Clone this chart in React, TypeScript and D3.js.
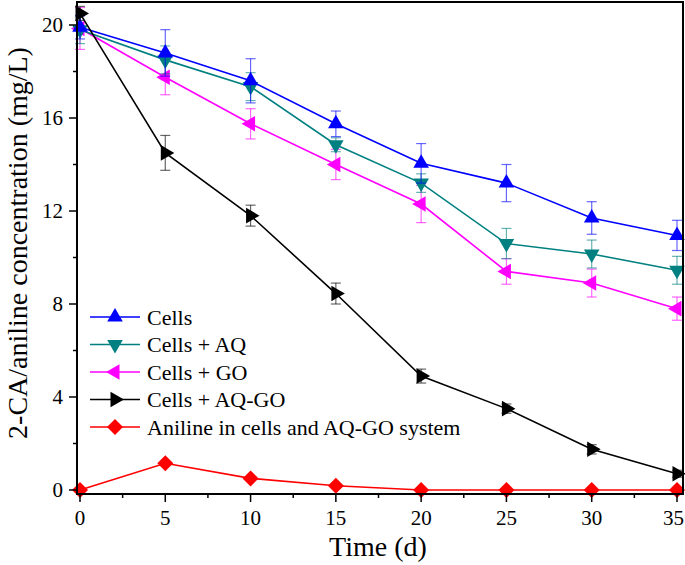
import React from "react";
import * as d3 from "d3";

const days = [0, 5, 10, 15, 20, 25, 30, 35];
const cells = [19.9, 18.8, 17.6, 15.75, 14.05, 13.2, 11.7, 10.95];
const cellsErr = [0.5, 1.0, 0.95, 0.55, 0.85, 0.8, 0.7, 0.65];
const cellsAQ = [19.8, 18.5, 17.35, 14.85, 13.2, 10.6, 10.15, 9.45];
const cellsAQErr = [0.6, 0.6, 0.6, 0.3, 0.4, 0.65, 0.6, 0.6];
const cellsGO = [19.85, 17.75, 15.75, 14.0, 12.3, 9.4, 8.9, 7.8];
const cellsGOErr = [0.9, 0.75, 0.65, 0.65, 0.8, 0.55, 0.6, 0.5];
const cellsAQGO = [20.5, 14.5, 11.8, 8.45, 4.9, 3.5, 1.75, 0.7];
const cellsAQGOErr = [0.3, 0.75, 0.45, 0.45, 0.3, 0.2, 0.2, 0.15];
const aniline = [0, 1.15, 0.5, 0.18, 0, 0, 0, 0];

const seriesNames = [
  "Cells",
  "Cells + AQ",
  "Cells + GO",
  "Cells + AQ-GO",
  "Aniline in cells and AQ-GO system",
];
const xTicks = [0, 5, 10, 15, 20, 25, 30, 35];
const yTicks = [0, 4, 8, 12, 16, 20];

type Shape = "up" | "down" | "left" | "right" | "diamond";

function markerPath(shape: Shape, cx: number, cy: number): string {
  const r = 9;
  const tri = (angles: number[]) =>
    angles
      .map((a, i) => {
        const rad = (a * Math.PI) / 180;
        return `${i === 0 ? "M" : "L"}${cx + r * Math.cos(rad)},${cy + r * Math.sin(rad)}`;
      })
      .join("") + "Z";
  switch (shape) {
    case "up":
      return tri([-90, 30, 150]);
    case "down":
      return tri([90, 210, 330]);
    case "left":
      return tri([180, 300, 60]);
    case "right":
      return tri([0, 120, 240]);
    case "diamond": {
      const d = 8;
      return `M${cx},${cy - d}L${cx + d},${cy}L${cx},${cy + d}L${cx - d},${cy}Z`;
    }
  }
}

export default function App() {
  const W = 685;
  const H = 565;
  const frame = { left: 77, right: 683, top: 2, bottom: 494 };
  const x = d3.scaleLinear().domain([0, 35]).range([80, 677]);
  const y = d3.scaleLinear().domain([0, 20]).range([490, 25]);
  const font = "'Liberation Serif', 'Times New Roman', serif";

  const series = [
    { name: seriesNames[2], vals: cellsGO, err: cellsGOErr, color: "#FF00FF", shape: "left" as Shape },
    { name: seriesNames[1], vals: cellsAQ, err: cellsAQErr, color: "#008080", shape: "down" as Shape },
    { name: seriesNames[0], vals: cells, err: cellsErr, color: "#0000FF", shape: "up" as Shape },
    { name: seriesNames[3], vals: cellsAQGO, err: cellsAQGOErr, color: "#000000", shape: "right" as Shape },
    { name: seriesNames[4], vals: aniline, err: null as number[] | null, color: "#FF0000", shape: "diamond" as Shape },
  ];
  const legendOrder = [2, 1, 0, 3, 4];

  const line = d3
    .line<number>()
    .x((_, i) => x(days[i]))
    .y((v) => y(v));

  const xMinor = d3.range(2.5, 35, 5);
  const yMinor = d3.range(2, 21, 4);

  return (
    <svg
      width={W}
      height={H}
      style={{ position: "absolute", left: 0, top: 0, background: "#fff" }}
      fontFamily={font}
    >
      <rect x={0} y={0} width={W} height={H} fill="#fff" />
      {series.map((s, si) => (
        <g key={si}>
          {s.err &&
            s.vals.map((v, i) => {
              const cx = x(days[i]);
              const y1 = y(v + s.err![i]);
              const y2 = y(v - s.err![i]);
              return (
                <g key={i} stroke={s.color} strokeOpacity={0.6} strokeWidth={1.2}>
                  <line x1={cx} x2={cx} y1={y1} y2={y2} />
                  <line x1={cx - 5} x2={cx + 5} y1={y1} y2={y1} />
                  <line x1={cx - 5} x2={cx + 5} y1={y2} y2={y2} />
                </g>
              );
            })}
          <path d={line(s.vals) || ""} fill="none" stroke={s.color} strokeWidth={1.6} />
          {s.vals.map((v, i) => (
            <path key={i} d={markerPath(s.shape, x(days[i]), y(v))} fill={s.color} />
          ))}
        </g>
      ))}
      <rect
        x={frame.left}
        y={frame.top}
        width={frame.right - frame.left}
        height={frame.bottom - frame.top}
        fill="none"
        stroke="#000"
        strokeWidth={2}
      />
      {xTicks.map((t, i) => {
        const last = i === xTicks.length - 1;
        return (
          <g key={t}>
            <line x1={x(t)} x2={x(t)} y1={frame.bottom} y2={frame.bottom + 8} stroke="#000" strokeWidth={1.5} />
            <text
              x={last ? W - 1 : x(t)}
              y={525}
              textAnchor={last ? "end" : "middle"}
              fontSize={21}
            >
              {t}
            </text>
          </g>
        );
      })}
      {xMinor.map((t) => (
        <line key={t} x1={x(t)} x2={x(t)} y1={frame.bottom} y2={frame.bottom + 4} stroke="#000" strokeWidth={1.5} />
      ))}
      {yTicks.map((t) => (
        <g key={t}>
          <line x1={frame.left - 8} x2={frame.left} y1={y(t)} y2={y(t)} stroke="#000" strokeWidth={1.5} />
          <text x={frame.left - 14} y={y(t) + 7} textAnchor="end" fontSize={21}>
            {t}
          </text>
        </g>
      ))}
      {yMinor.map((t) => (
        <line key={t} x1={frame.left - 4} x2={frame.left} y1={y(t)} y2={y(t)} stroke="#000" strokeWidth={1.5} />
      ))}
      <text x={378} y={556} textAnchor="middle" fontSize={28}>
        Time (d)
      </text>
      <text transform="translate(27,243) rotate(-90)" textAnchor="middle" fontSize={28}>
        2-CA/aniline concentration (mg/L)
      </text>
      {legendOrder.map((si, k) => {
        const s = series[si];
        const ly = 317 + k * 27.5;
        return (
          <g key={k}>
            <line x1={90} x2={140} y1={ly} y2={ly} stroke={s.color} strokeWidth={1.6} />
            <path d={markerPath(s.shape, 115, ly)} fill={s.color} />
            <text x={147} y={ly + 7.5} fontSize={22}>
              {s.name}
            </text>
          </g>
        );
      })}
    </svg>
  );
}
